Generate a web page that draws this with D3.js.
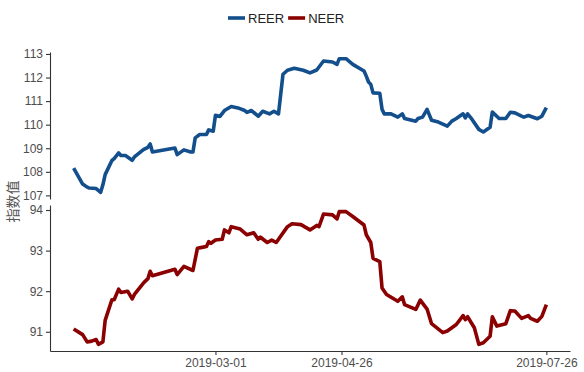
<!DOCTYPE html>
<html>
<head>
<meta charset="utf-8">
<script src="https://cdn.jsdelivr.net/npm/d3@7"></script>
<style>
  body { margin: 0; background: #fff; }
  text { font-family: "Liberation Sans", Arial, sans-serif; }
</style>
</head>
<body>
<svg id="chart" width="584" height="372"></svg>
<script>
const reerDates = ['2018-12-28','2019-01-01','2019-01-03','2019-01-04','2019-01-07','2019-01-09','2019-01-10','2019-01-11',
  '2019-01-14','2019-01-15','2019-01-17','2019-01-18','2019-01-20','2019-01-23','2019-01-24','2019-01-28','2019-01-30',
  '2019-01-31','2019-02-01','2019-02-11','2019-02-12','2019-02-15','2019-02-18','2019-02-19','2019-02-20','2019-02-22',
  '2019-02-25','2019-02-26','2019-02-28','2019-03-01','2019-03-03','2019-03-05','2019-03-08','2019-03-11','2019-03-14',
  '2019-03-15','2019-03-17','2019-03-20','2019-03-22','2019-03-25','2019-03-27','2019-03-29','2019-03-31','2019-04-02',
  '2019-04-05','2019-04-09','2019-04-12','2019-04-15','2019-04-18','2019-04-22','2019-04-24','2019-04-25','2019-04-28',
  '2019-05-01','2019-05-06','2019-05-07','2019-05-08','2019-05-09','2019-05-10','2019-05-13','2019-05-14','2019-05-15',
  '2019-05-18','2019-05-21','2019-05-23','2019-05-24','2019-05-29','2019-05-30','2019-06-01','2019-06-03','2019-06-05',
  '2019-06-08','2019-06-12','2019-06-14','2019-06-16','2019-06-19','2019-06-20','2019-06-21','2019-06-23','2019-06-26',
  '2019-06-28','2019-07-01','2019-07-02','2019-07-05','2019-07-08','2019-07-10','2019-07-12','2019-07-15','2019-07-16',
  '2019-07-18','2019-07-22','2019-07-24','2019-07-26'];
const reerValues = [108.16,107.48,107.35,107.31,107.29,107.13,107.45,107.88,
  108.48,108.56,108.80,108.69,108.69,108.49,108.63,108.94,109.04,
  109.18,108.84,109.01,108.73,108.93,108.84,108.84,109.44,109.58,
  109.58,109.78,109.72,110.40,110.35,110.60,110.77,110.71,110.60,
  110.52,110.60,110.36,110.57,110.46,110.57,110.46,112.14,112.31,
  112.39,112.31,112.20,112.32,112.70,112.66,112.56,112.80,112.80,
  112.56,112.28,112.06,111.81,111.71,111.35,111.33,110.65,110.46,
  110.46,110.32,110.46,110.26,110.15,110.26,110.32,110.65,110.19,
  110.11,109.94,110.15,110.26,110.46,110.29,110.46,110.22,109.80,
  109.69,109.89,110.54,110.26,110.26,110.53,110.50,110.36,110.32,
  110.39,110.25,110.36,110.72];

const neerDates = ['2018-12-28','2019-01-01','2019-01-03','2019-01-05','2019-01-07','2019-01-08','2019-01-10','2019-01-11',
  '2019-01-14','2019-01-15','2019-01-17','2019-01-18','2019-01-21','2019-01-23','2019-01-24','2019-01-28','2019-01-30',
  '2019-01-31','2019-02-01','2019-02-11','2019-02-12','2019-02-15','2019-02-19','2019-02-21','2019-02-23','2019-02-25',
  '2019-02-26','2019-02-27','2019-03-01','2019-03-04','2019-03-05','2019-03-07','2019-03-08','2019-03-12','2019-03-15',
  '2019-03-18','2019-03-20','2019-03-21','2019-03-24','2019-03-26','2019-03-28','2019-04-02','2019-04-04','2019-04-08',
  '2019-04-12','2019-04-15','2019-04-16','2019-04-18','2019-04-22','2019-04-24','2019-04-25','2019-04-28','2019-05-01',
  '2019-05-06','2019-05-07','2019-05-09','2019-05-10','2019-05-13','2019-05-14','2019-05-16','2019-05-21','2019-05-23',
  '2019-05-24','2019-05-29','2019-05-31','2019-06-03','2019-06-05','2019-06-10','2019-06-12','2019-06-16','2019-06-19',
  '2019-06-20','2019-06-21','2019-06-24','2019-06-26','2019-06-28','2019-07-01','2019-07-02','2019-07-04','2019-07-08',
  '2019-07-10','2019-07-12','2019-07-15','2019-07-18','2019-07-19','2019-07-22','2019-07-24','2019-07-26'];
const neerValues = [91.07,90.93,90.75,90.77,90.81,90.69,90.75,91.28,
  91.79,91.79,92.05,91.97,92.00,91.81,91.92,92.20,92.31,
  92.49,92.38,92.54,92.41,92.61,92.51,93.06,93.08,93.10,
  93.22,93.18,93.26,93.28,93.51,93.44,93.59,93.53,93.39,
  93.44,93.28,93.33,93.20,93.26,93.20,93.59,93.66,93.64,
  93.51,93.62,93.59,93.90,93.88,93.78,93.96,93.96,93.84,
  93.63,93.39,93.20,92.81,92.73,92.08,91.92,91.75,91.86,
  91.67,91.55,91.78,91.56,91.20,90.98,91.02,91.18,91.40,
  91.30,91.37,91.10,90.69,90.73,90.89,91.37,91.14,91.20,
  91.52,91.51,91.33,91.40,91.33,91.26,91.38,91.67];

const seriesNames = ['REER', 'NEER'];
const seriesColors = ['#134f8c', '#8b0000'];
const reerTicks = [107, 108, 109, 110, 111, 112, 113];
const neerTicks = [91, 92, 93, 94];
const dateTicks = ['2019-03-01', '2019-04-26', '2019-07-26'];
const yLabel = '指数值';

const left = 50;
const right = 570;
const panels = [
  { top: 52, bottom: 199 },
  { top: 205, bottom: 351 }
];
const axisColor = '#333';
const tickTextColor = '#4d4d4d';

const parse = d3.timeParse('%Y-%m-%d');
const fmt = d3.timeFormat('%Y-%m-%d');

const series = [
  reerDates.map((d, i) => ({ date: parse(d), value: reerValues[i] })),
  neerDates.map((d, i) => ({ date: parse(d), value: neerValues[i] }))
];
const yTicks = [reerTicks, neerTicks];

// ggplot-like 5% expansion
function expand(ext) {
  const pad = (ext[1] - ext[0]) * 0.05;
  return [ext[0] - pad, ext[1] + pad];
}

function styleAxis(g) {
  g.select('.domain').attr('stroke', axisColor).attr('stroke-width', 1.1);
  g.selectAll('.tick line').attr('stroke', axisColor).attr('stroke-width', 1.1);
  g.selectAll('.tick text')
    .attr('fill', tickTextColor)
    .attr('font-size', '12px')
    .style('font-family', '"Liberation Sans", Arial, sans-serif');
}

const svg = d3.select('#chart');

const allDates = series[0].concat(series[1]).map(d => d.date);
const dateExt = d3.extent(allDates);
const dayPad = (dateExt[1] - dateExt[0]) * 0.05;
const x = d3.scaleTime()
  .domain([new Date(+dateExt[0] - dayPad), new Date(+dateExt[1] + dayPad)])
  .range([left, right]);

series.forEach((data, i) => {
  const p = panels[i];
  const y = d3.scaleLinear()
    .domain(expand(d3.extent(data, d => d.value)))
    .range([p.bottom, p.top]);

  svg.append('g')
    .attr('transform', `translate(${left},0)`)
    .call(d3.axisLeft(y).tickValues(yTicks[i]).tickSizeInner(4).tickSizeOuter(0)
      .tickPadding(3).tickFormat(d3.format('d')))
    .call(styleAxis);

  const line = d3.line()
    .x(d => x(d.date))
    .y(d => y(d.value));

  svg.append('path')
    .datum(data)
    .attr('d', line)
    .attr('fill', 'none')
    .attr('stroke', seriesColors[i])
    .attr('stroke-width', 3.6)
    .attr('stroke-linejoin', 'round')
    .attr('stroke-linecap', 'butt');
});

svg.append('g')
  .attr('transform', `translate(0,${panels[1].bottom})`)
  .call(d3.axisBottom(x).tickValues(dateTicks.map(parse)).tickSizeInner(4).tickSizeOuter(0)
    .tickPadding(3).tickFormat(fmt))
  .call(styleAxis);

// y label
svg.append('text')
  .text(yLabel)
  .attr('transform', `translate(18,${(panels[0].top + panels[1].bottom) / 2}) rotate(-90)`)
  .attr('text-anchor', 'middle')
  .attr('font-size', '14px')
  .attr('fill', '#555')
  .style('font-family', '"Noto Sans CJK SC", sans-serif');

// legend
const legend = svg.append('g').attr('transform', 'translate(228,18)');
let lx = 0;
seriesNames.forEach((name, i) => {
  legend.append('line')
    .attr('x1', lx).attr('x2', lx + 17)
    .attr('y1', 0).attr('y2', 0)
    .attr('stroke', seriesColors[i])
    .attr('stroke-width', 3.6);
  const t = legend.append('text')
    .text(name)
    .attr('x', lx + 20)
    .attr('y', 4.5)
    .attr('font-size', '13px')
    .attr('fill', '#222');
  lx += 20 + t.node().getComputedTextLength() + 4;
});
</script>
</body>
</html>
